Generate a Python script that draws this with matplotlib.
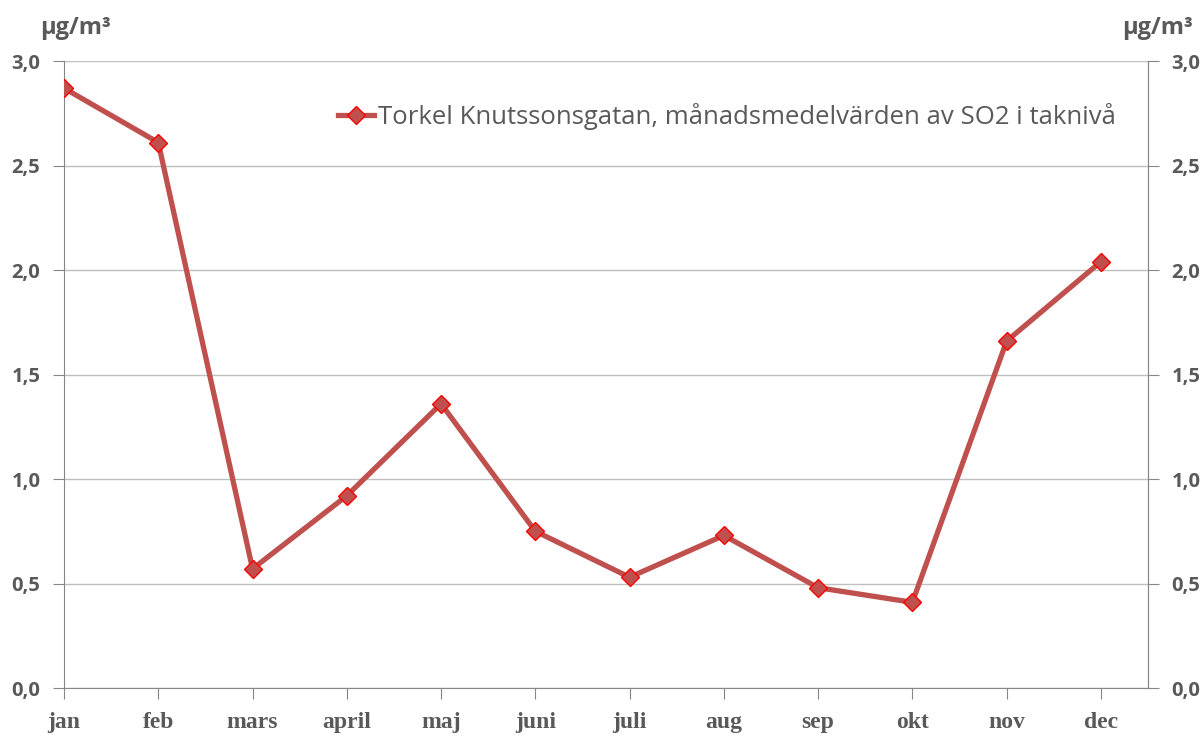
import matplotlib.pyplot as plt
import numpy as np

months = ["jan", "feb", "mars", "april", "maj", "juni", "juli", "aug", "sep", "okt", "nov", "dec"]
so2 = [2.87, 2.61, 0.57, 0.92, 1.36, 0.75, 0.53, 0.73, 0.48, 0.41, 1.66, 2.04]
yticks = [0.0, 0.5, 1.0, 1.5, 2.0, 2.5, 3.0]
ytick_labels = ["0,0", "0,5", "1,0", "1,5", "2,0", "2,5", "3,0"]
series_label = "Torkel Knutssonsgatan, månadsmedelvärden av SO2 i taknivå"
unit = "µg/m³"

gray = "#595959"
axcol = "#868686"

fig = plt.figure(figsize=(12.01, 7.36), dpi=100)
ax = fig.add_axes([0.0533, 0.0652, 0.9026, 0.8519])

x = np.arange(len(months))
ax.plot(x, so2, color="#C0504D", lw=3.8, marker="D", markersize=9,
        markerfacecolor="#C0504D", markeredgecolor="#FF0000", markeredgewidth=1,
        label=series_label, zorder=3)

ax.set_xlim(0, 11.5)
ax.set_ylim(0, 3.0)
ax.set_yticks(yticks)
ax.set_yticklabels(ytick_labels, fontfamily="Open Sans", fontweight="bold",
                   fontsize=14.5, color=gray)
ax.set_xticks(x)
ax.set_xticklabels(months, fontfamily="Liberation Serif", fontweight="bold",
                   fontsize=17, color=gray)
ax.grid(axis="y", color="#BFBFBF", lw=1)
ax.set_axisbelow(True)

ax.spines["top"].set_visible(False)
for s in ["left", "bottom", "right"]:
    ax.spines[s].set_color(axcol)
ax.tick_params(axis="y", length=8, color=axcol, pad=9)
ax.tick_params(axis="x", length=8, color=axcol, pad=9)

ax2 = ax.twinx()
ax2.set_ylim(0, 3.0)
ax2.set_yticks(yticks)
ax2.set_yticklabels(ytick_labels, fontfamily="Open Sans", fontweight="bold",
                    fontsize=14.5, color=gray)
ax2.tick_params(axis="y", length=8, color=axcol, pad=9)
for s in ["top", "left", "bottom"]:
    ax2.spines[s].set_visible(False)
ax2.spines["right"].set_color(axcol)

fig.text(0.033, 0.962, unit, fontfamily="Open Sans", fontweight="bold",
         fontsize=17, color=gray, ha="left", va="center")
fig.text(0.993, 0.962, unit, fontfamily="Open Sans", fontweight="bold",
         fontsize=17, color=gray, ha="right", va="center")

leg = ax.legend(loc="upper right", bbox_to_anchor=(0.98, 0.95), frameon=False,
                prop={"family": "Open Sans", "size": 18.5}, handlelength=1.4,
                handletextpad=0.15, borderaxespad=0)
for t in leg.get_texts():
    t.set_color(gray)

fig.savefig("out.png", dpi=100)
